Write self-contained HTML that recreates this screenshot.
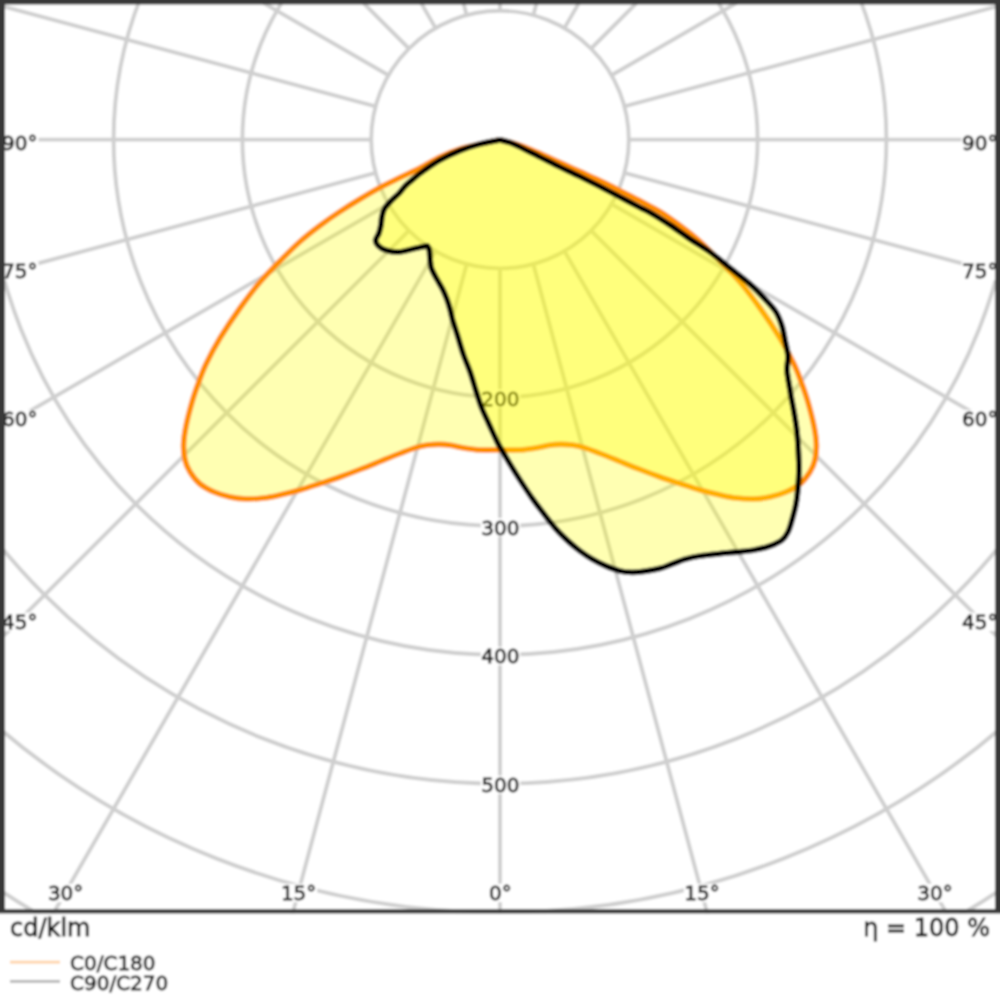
<!DOCTYPE html>
<html lang="en">
<head>
<meta charset="utf-8">
<title>Light distribution curve</title>
<style>
html,body{margin:0;padding:0;background:#fff;}
body{width:1000px;height:1000px;overflow:hidden;font-family:"DejaVu Sans", "Liberation Sans", sans-serif;}
svg{display:block;}
svg text{font-family:"DejaVu Sans", "Liberation Sans", sans-serif;fill:#141414;stroke:#141414;stroke-width:0.8px;}
.grid{fill:none;stroke:#cfcfcf;stroke-width:3.9;}
.lbl text{font-size:20px;text-anchor:middle;}
.lblbg rect{fill:#fff;}
.fill{fill:rgba(255,255,0,0.30);stroke-linejoin:round;}
</style>
</head>
<body>
<svg width="1000" height="1000" viewBox="0 0 1000 1000">
<defs>
<filter id="soft" x="-5%" y="-5%" width="110%" height="110%"><feGaussianBlur stdDeviation="0.85"/></filter>
<clipPath id="plot"><rect x="-40" y="-40" width="1080" height="953.5"/></clipPath>
</defs>
<rect x="-50" y="-50" width="1100" height="1100" fill="#fff"/>
<g filter="url(#soft)">
<rect x="-50" y="-50" width="1100" height="1100" fill="#fff"/>
<g clip-path="url(#plot)">
<g class="grid">
<circle cx="500.0" cy="139.6" r="128.8"/>
<circle cx="500.0" cy="139.6" r="257.6"/>
<circle cx="500.0" cy="139.6" r="386.4"/>
<circle cx="500.0" cy="139.6" r="515.2"/>
<circle cx="500.0" cy="139.6" r="644.0"/>
<circle cx="500.0" cy="139.6" r="772.8"/>
<circle cx="500.0" cy="139.6" r="901.6"/>
<line x1="500.0" y1="268.4" x2="500.0" y2="1239.6"/>
<line x1="533.3" y1="264.0" x2="784.7" y2="1202.1"/>
<line x1="564.4" y1="251.1" x2="1050.0" y2="1092.2"/>
<line x1="591.1" y1="230.7" x2="1277.8" y2="917.4"/>
<line x1="611.5" y1="204.0" x2="1452.6" y2="689.6"/>
<line x1="624.4" y1="172.9" x2="1562.5" y2="424.3"/>
<line x1="628.8" y1="139.6" x2="1600.0" y2="139.6"/>
<line x1="624.4" y1="106.3" x2="1562.5" y2="-145.1"/>
<line x1="611.5" y1="75.2" x2="1452.6" y2="-410.4"/>
<line x1="591.1" y1="48.5" x2="1277.8" y2="-638.2"/>
<line x1="564.4" y1="28.1" x2="1050.0" y2="-813.0"/>
<line x1="533.3" y1="15.2" x2="784.7" y2="-922.9"/>
<line x1="500.0" y1="10.8" x2="500.0" y2="-960.4"/>
<line x1="466.7" y1="15.2" x2="215.3" y2="-922.9"/>
<line x1="435.6" y1="28.1" x2="-50.0" y2="-813.0"/>
<line x1="408.9" y1="48.5" x2="-277.8" y2="-638.2"/>
<line x1="388.5" y1="75.2" x2="-452.6" y2="-410.4"/>
<line x1="375.6" y1="106.3" x2="-562.5" y2="-145.1"/>
<line x1="371.2" y1="139.6" x2="-600.0" y2="139.6"/>
<line x1="375.6" y1="172.9" x2="-562.5" y2="424.3"/>
<line x1="388.5" y1="204.0" x2="-452.6" y2="689.6"/>
<line x1="408.9" y1="230.7" x2="-277.8" y2="917.4"/>
<line x1="435.6" y1="251.1" x2="-50.0" y2="1092.2"/>
<line x1="466.7" y1="264.0" x2="215.3" y2="1202.1"/>
</g>
<g class="lblbg">
<rect x="480.7" y="389.2" width="39.7" height="18.5"/>
<rect x="480.7" y="518.0" width="39.7" height="18.5"/>
<rect x="480.7" y="646.8" width="39.7" height="18.5"/>
<rect x="480.7" y="775.6" width="39.7" height="18.5"/>
<rect x="1.6" y="133.3" width="36.9" height="18.5"/>
<rect x="961.6" y="133.3" width="36.9" height="18.5"/>
<rect x="1.6" y="261.7" width="36.9" height="18.5"/>
<rect x="961.6" y="261.7" width="36.9" height="18.5"/>
<rect x="1.6" y="409.8" width="36.9" height="18.5"/>
<rect x="961.6" y="409.8" width="36.9" height="18.5"/>
<rect x="1.6" y="612.5" width="36.9" height="18.5"/>
<rect x="961.6" y="612.5" width="36.9" height="18.5"/>
<rect x="47.4" y="883.7" width="36.9" height="18.5"/>
<rect x="916.8" y="883.7" width="36.9" height="18.5"/>
<rect x="280.3" y="883.7" width="36.9" height="18.5"/>
<rect x="683.8" y="883.7" width="36.9" height="18.5"/>
<rect x="488.4" y="883.7" width="24.2" height="18.5"/>
</g>
<g class="lbl">
<text transform="translate(500.3,405.7) scale(1,1.00)">200</text>
<text transform="translate(500.3,534.5) scale(1,1.00)">300</text>
<text transform="translate(500.3,663.3) scale(1,1.00)">400</text>
<text transform="translate(500.3,792.1) scale(1,1.00)">500</text>
<text transform="translate(19.8,149.8) scale(1,1.00)">90°</text>
<text transform="translate(979.8,149.8) scale(1,1.00)">90°</text>
<text transform="translate(19.8,278.2) scale(1,1.00)">75°</text>
<text transform="translate(979.8,278.2) scale(1,1.00)">75°</text>
<text transform="translate(19.8,426.3) scale(1,1.00)">60°</text>
<text transform="translate(979.8,426.3) scale(1,1.00)">60°</text>
<text transform="translate(19.8,629.0) scale(1,1.00)">45°</text>
<text transform="translate(979.8,629.0) scale(1,1.00)">45°</text>
<text transform="translate(65.6,900.2) scale(1,1.00)">30°</text>
<text transform="translate(935.0,900.2) scale(1,1.00)">30°</text>
<text transform="translate(298.6,900.2) scale(1,1.00)">15°</text>
<text transform="translate(702.0,900.2) scale(1,1.00)">15°</text>
<text transform="translate(500.3,900.2) scale(1,1.00)">0°</text>
</g>
<path class="fill" stroke="#ff8c00" stroke-width="5.6" d="M500.0,139.8C500.0,139.8 486.7,142.5 480.0,144.0C473.3,145.5 466.7,146.8 460.0,149.0C453.3,151.2 446.7,153.8 440.0,157.0C433.3,160.2 426.7,164.6 420.0,168.0C413.3,171.4 406.7,174.2 400.0,177.5C393.3,180.8 386.7,183.9 380.0,187.5C373.3,191.1 366.7,195.0 360.0,199.0C353.3,203.0 346.7,207.1 340.0,211.5C333.3,215.9 326.7,220.5 320.0,225.5C313.3,230.5 306.7,235.6 300.0,241.5C293.3,247.4 286.7,254.2 280.0,261.0C273.3,267.8 266.7,274.2 260.0,282.0C253.3,289.8 246.7,298.7 240.0,308.0C233.3,317.3 225.7,328.7 220.0,338.0C214.3,347.3 209.7,356.3 206.0,364.0C202.3,371.7 200.3,377.7 198.0,384.0C195.7,390.3 194.0,395.0 192.0,402.0C190.0,409.0 187.4,419.0 186.0,426.0C184.6,433.0 183.8,438.3 183.6,444.0C183.4,449.7 183.9,455.3 185.0,460.0C186.1,464.7 187.5,468.0 190.0,472.0C192.5,476.0 196.0,480.7 200.0,484.0C204.0,487.3 209.0,489.8 214.0,492.0C219.0,494.2 224.7,495.8 230.0,497.0C235.3,498.2 240.3,498.8 246.0,499.0C251.7,499.2 258.3,498.7 264.0,498.0C269.7,497.3 274.0,496.3 280.0,495.0C286.0,493.7 293.3,491.9 300.0,490.0C306.7,488.1 313.3,485.8 320.0,483.6C326.7,481.4 333.3,479.4 340.0,477.0C346.7,474.6 353.3,472.1 360.0,469.5C366.7,466.9 373.3,464.2 380.0,461.5C386.7,458.8 394.0,455.8 400.0,453.5C406.0,451.2 411.3,449.0 416.0,447.6C420.7,446.2 424.0,445.5 428.0,445.0C432.0,444.5 436.0,444.3 440.0,444.4C444.0,444.5 448.0,445.0 452.0,445.6C456.0,446.2 459.3,447.3 464.0,448.0C468.7,448.7 474.0,449.7 480.0,450.0C486.0,450.3 493.3,450.0 500.0,450.0C506.7,450.0 514.0,450.3 520.0,450.0C526.0,449.7 531.3,448.7 536.0,448.0C540.7,447.3 544.0,446.2 548.0,445.6C552.0,445.0 556.0,444.5 560.0,444.4C564.0,444.3 568.0,444.5 572.0,445.0C576.0,445.5 579.3,446.2 584.0,447.6C588.7,449.0 594.0,451.2 600.0,453.5C606.0,455.8 613.3,458.8 620.0,461.5C626.7,464.2 633.3,466.9 640.0,469.5C646.7,472.1 653.3,474.6 660.0,477.0C666.7,479.4 673.3,481.4 680.0,483.6C686.7,485.8 693.3,488.1 700.0,490.0C706.7,491.9 714.0,493.7 720.0,495.0C726.0,496.3 730.3,497.3 736.0,498.0C741.7,498.7 748.3,499.2 754.0,499.0C759.7,498.8 764.7,498.2 770.0,497.0C775.3,495.8 781.0,494.2 786.0,492.0C791.0,489.8 796.0,487.3 800.0,484.0C804.0,480.7 807.5,476.0 810.0,472.0C812.5,468.0 813.9,464.7 815.0,460.0C816.1,455.3 816.6,449.7 816.4,444.0C816.2,438.3 815.4,433.0 814.0,426.0C812.6,419.0 810.0,409.0 808.0,402.0C806.0,395.0 804.3,390.3 802.0,384.0C799.7,377.7 797.7,371.7 794.0,364.0C790.3,356.3 785.7,347.3 780.0,338.0C774.3,328.7 766.7,317.3 760.0,308.0C753.3,298.7 746.7,289.8 740.0,282.0C733.3,274.2 726.7,267.8 720.0,261.0C713.3,254.2 706.7,247.4 700.0,241.5C693.3,235.6 686.7,230.5 680.0,225.5C673.3,220.5 666.0,215.3 660.0,211.6C654.0,207.8 649.3,205.8 644.0,203.0C638.7,200.2 633.3,197.5 628.0,194.8C622.7,192.1 617.3,189.3 612.0,186.6C606.7,183.9 601.3,181.3 596.0,178.8C590.7,176.3 585.3,174.0 580.0,171.6C574.7,169.2 569.3,166.8 564.0,164.4C558.7,162.0 553.3,159.4 548.0,157.0C542.7,154.6 537.3,152.2 532.0,150.0C526.7,147.8 521.3,145.7 516.0,144.0C510.7,142.3 500.0,139.8 500.0,139.8Z"/>
<path class="fill" stroke="#000" stroke-width="5.8" d="M500.0,139.8C500.0,139.8 486.7,142.2 480.0,144.0C473.3,145.8 466.7,147.8 460.0,150.5C453.3,153.2 446.0,156.7 440.0,160.0C434.0,163.3 428.7,167.2 424.0,170.5C419.3,173.8 415.1,177.4 412.0,180.0C408.9,182.6 407.3,183.8 405.2,186.0C403.1,188.2 401.7,190.6 399.4,193.0C397.1,195.4 393.9,197.9 391.4,200.5C388.9,203.1 386.2,205.8 384.6,208.6C383.0,211.3 382.5,214.3 381.9,217.0C381.3,219.7 381.5,222.1 381.0,224.8C380.5,227.5 379.8,230.6 378.9,233.2C378.0,235.8 375.7,238.1 375.6,240.2C375.5,242.3 376.6,244.2 378.2,245.8C379.8,247.4 381.9,248.9 385.2,250.0C388.5,251.1 393.8,252.1 397.8,252.1C401.8,252.1 405.3,250.8 409.0,250.0C412.7,249.2 417.2,247.9 420.2,247.2C423.2,246.5 427.2,245.8 427.2,245.8C427.2,245.8 428.8,247.9 429.3,250.0C429.8,252.1 429.6,255.4 430.0,258.4C430.4,261.4 430.2,264.7 431.4,268.2C432.6,271.7 435.1,275.9 437.0,279.4C438.9,282.9 441.0,285.9 442.6,289.2C444.2,292.5 445.5,295.5 446.8,299.0C448.1,302.5 449.4,306.9 450.3,310.2C451.2,313.5 451.1,314.6 452.4,319.0C453.6,323.4 456.0,330.5 457.8,336.4C459.6,342.3 461.3,348.5 463.4,354.6C465.5,360.7 468.3,366.7 470.4,372.8C472.5,378.9 474.1,385.2 476.0,391.0C477.9,396.8 479.5,402.4 481.6,407.8C483.7,413.2 486.2,417.8 488.6,423.2C491.1,428.6 494.4,436.0 496.3,440.0C498.2,444.0 497.7,443.0 500.0,447.0C502.3,451.0 506.7,458.5 510.0,464.0C513.3,469.5 516.3,474.3 520.0,480.0C523.7,485.7 528.0,492.3 532.0,498.0C536.0,503.7 540.0,508.8 544.0,514.0C548.0,519.2 552.0,524.5 556.0,529.0C560.0,533.5 564.0,537.3 568.0,541.0C572.0,544.7 576.0,548.0 580.0,551.0C584.0,554.0 587.7,556.5 592.0,559.0C596.3,561.5 601.3,564.0 606.0,566.0C610.7,568.0 615.7,569.9 620.0,571.0C624.3,572.1 628.0,572.3 632.0,572.4C636.0,572.5 639.3,572.1 644.0,571.4C648.7,570.7 655.3,569.6 660.0,568.4C664.7,567.2 667.7,565.6 672.0,564.0C676.3,562.4 681.3,560.3 686.0,559.0C690.7,557.7 694.3,556.9 700.0,556.0C705.7,555.1 713.7,554.3 720.0,553.6C726.3,552.9 732.3,552.6 738.0,552.0C743.7,551.4 748.7,551.0 754.0,550.0C759.3,549.0 765.3,547.7 770.0,546.0C774.7,544.3 779.0,542.3 782.0,540.0C785.0,537.7 786.3,535.3 788.0,532.0C789.7,528.7 790.7,524.7 792.0,520.0C793.3,515.3 795.0,509.3 796.0,504.0C797.0,498.7 797.5,493.7 798.0,488.0C798.5,482.3 798.9,476.0 799.0,470.0C799.1,464.0 798.7,458.3 798.4,452.0C798.1,445.7 797.7,438.7 797.0,432.0C796.3,425.3 795.0,418.0 794.0,412.0C793.0,406.0 791.8,400.7 791.0,396.0C790.2,391.3 789.7,388.3 789.0,384.0C788.3,379.7 787.2,374.7 787.0,370.0C786.8,365.3 788.3,361.0 788.0,356.0C787.7,351.0 786.0,345.0 785.0,340.0C784.0,335.0 783.5,330.7 782.0,326.0C780.5,321.3 779.0,316.7 776.0,312.0C773.0,307.3 768.3,302.7 764.0,298.0C759.7,293.3 755.7,289.0 750.0,284.0C744.3,279.0 736.7,273.3 730.0,268.0C723.3,262.7 716.7,256.8 710.0,252.0C703.3,247.2 696.7,243.5 690.0,239.0C683.3,234.5 676.7,229.4 670.0,225.0C663.3,220.6 655.0,215.4 650.0,212.5C645.0,209.6 645.0,210.1 640.0,207.5C635.0,204.9 626.7,200.5 620.0,197.0C613.3,193.5 606.7,189.9 600.0,186.5C593.3,183.1 586.7,179.8 580.0,176.5C573.3,173.2 566.7,170.2 560.0,167.0C553.3,163.8 546.7,160.3 540.0,157.0C533.3,153.7 525.0,149.4 520.0,147.0C515.0,144.6 513.3,143.7 510.0,142.5C506.7,141.3 500.0,139.8 500.0,139.8Z"/>
</g>
<path fill="#383838" fill-rule="evenodd" d="M-30,-30H1030V913.5H-30Z M5.0,4.4V908.9H995.0V4.4Z"/>
<text x="10" y="936" font-size="24" stroke-width="0.5">cd/klm</text>
<text x="990" y="936" font-size="24" text-anchor="end" stroke-width="0.5">η = 100 %</text>
<line x1="10" y1="962.2" x2="60" y2="962.2" stroke="#ffd2a6" stroke-width="2.7"/>
<line x1="10" y1="981.4" x2="60" y2="981.4" stroke="#b4b4b4" stroke-width="2.7"/>
<text x="70" y="969.5" font-size="20">C0/C180</text>
<text x="70" y="990" font-size="20">C90/C270</text>
</g>
</svg>
</body>
</html>
